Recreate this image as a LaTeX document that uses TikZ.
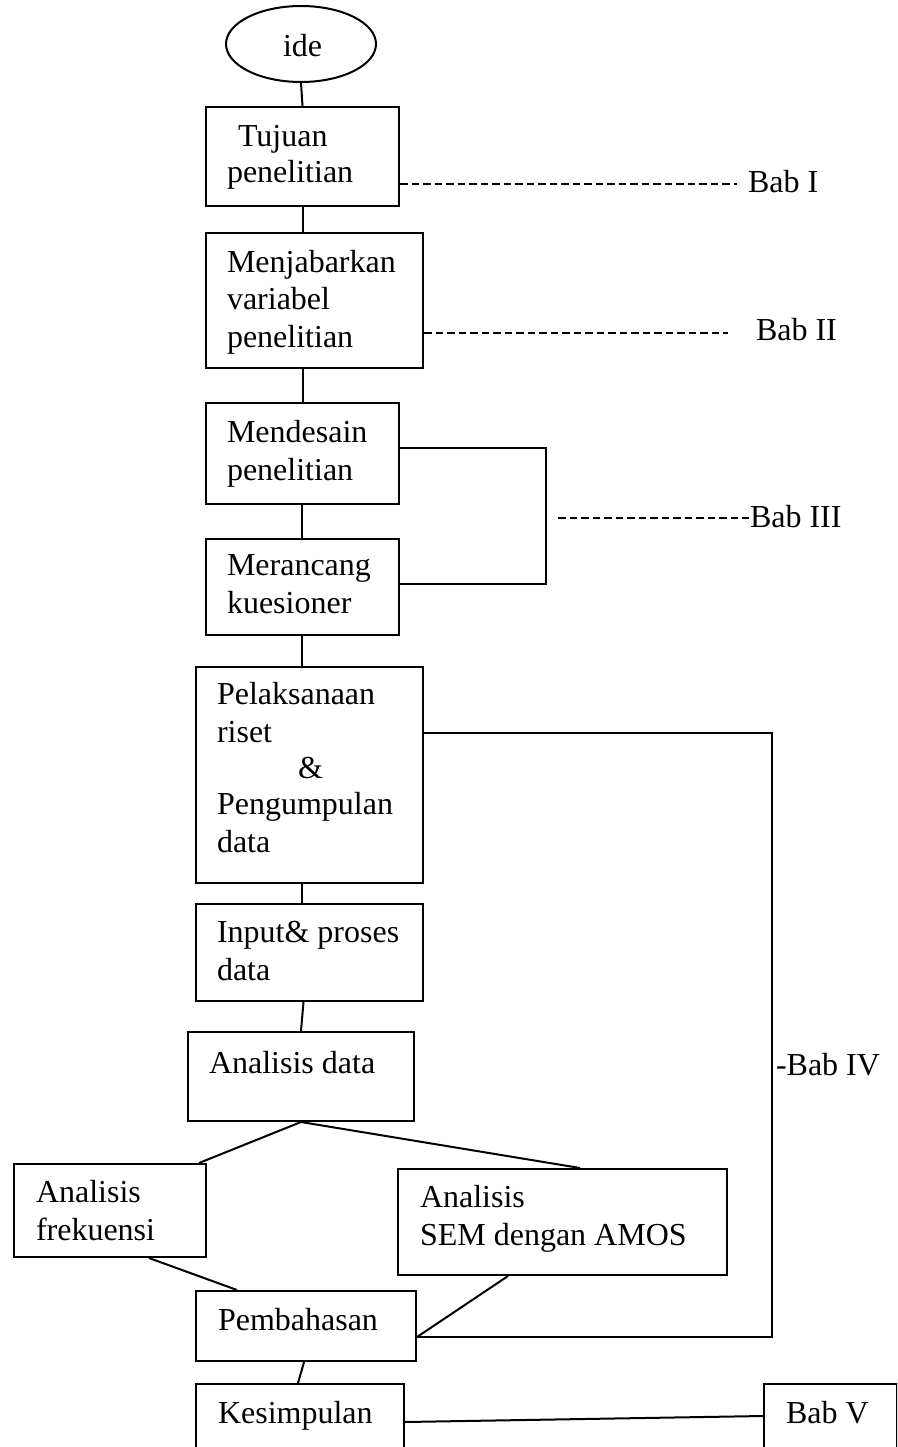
\documentclass[tikz,border=0pt]{standalone}
\usepackage{fontspec}
\setmainfont{Liberation Serif}
\usetikzlibrary{calc,shapes.geometric}
\begin{document}
\begin{tikzpicture}[x=1pt,y=-1pt,line width=2pt,
  box/.style={draw,rectangle,inner sep=0,anchor=north west},
  txt/.style={inner sep=0,anchor=base west,align=left,font=\fontsize{32}{37.5}\selectfont},
  link/.style={line width=2pt},
  dashlink/.style={line width=1.9pt,dash pattern=on 7.5pt off 4pt}]
\useasboundingbox (0,0) rectangle (897,1447);
\clip (0,0) rectangle (897,1447);

% start ellipse
\node[draw,ellipse,minimum width=150,minimum height=76,inner sep=0] (ide) at (301,44) {};
\node[txt] (tide) at (282,57) {ide};

% main column of boxes (multi-line labels are placed by their last baseline)
\node[box,minimum width=193,minimum height=99] (tuj) at (205,106) {};
\node[txt] (ttuj) at (237,147) {Tujuan};
\node[txt] (ttuj2) at (226,183) {penelitian};

\node[box,minimum width=217,minimum height=135] (menj) at (205,232) {};
\node[txt] (tmenj) at (226,347) {Menjabarkan\\variabel\\penelitian};

\node[box,minimum width=193,minimum height=101] (mend) at (205,402) {};
\node[txt] (tmend) at (226,480) {Mendesain\\penelitian};

\node[box,minimum width=193,minimum height=96] (mer) at (205,538) {};
\node[txt] (tmer) at (226,613) {Merancang\\kuesioner};

\node[box,minimum width=227,minimum height=216] (pel) at (195,666) {};
\node[txt] (tpel) at (216,742) {Pelaksanaan\\riset};
\node[txt] (tamp) at (297,778) {\&};
\node[txt] (tpel2) at (216,852) {Pengumpulan\\data};

\node[box,minimum width=227,minimum height=97] (inp) at (195,903) {};
\node[txt] (tinp) at (216,980) {Input\& proses\\data};

\node[box,minimum width=226,minimum height=89] (ana) at (187,1031) {};
\node[txt] (tana) at (208,1073) {Analisis data};

\node[box,minimum width=192,minimum height=93] (frek) at (13,1163) {};
\node[txt] (tfrek) at (35,1240) {Analisis\\frekuensi};

\node[box,minimum width=329,minimum height=106] (sem) at (397,1168) {};
\node[txt] (tsem) at (419,1245) {Analisis\\SEM dengan AMOS};

\node[box,minimum width=220,minimum height=70] (pemb) at (195,1290) {};
\node[txt] (tpemb) at (217,1330) {Pembahasan};

\node[box,minimum width=208,minimum height=100] (kes) at (195,1383) {};
\node[txt] (tkes) at (217,1423) {Kesimpulan};

\node[box,minimum width=133,minimum height=100] (bab5) at (763,1383) {};
\node[txt] (tbab5) at (785,1423) {Bab V};

% chapter labels
\node[txt] (bab1) at (747,193) {Bab I};
\node[txt] (bab2) at (755,340) {Bab II};
\node[txt] (bab3) at (749,527) {Bab III};
\node[txt] (bab4) at (775,1075) {-Bab IV};

% vertical flow
\draw[link] (ide.south) -- (tuj.north);
\draw[link] (tuj.south) -- (menj.north -| tuj.south);
\draw[link] ([xshift=-12pt]menj.south) -- (mend.north);
\draw[link] ([xshift=-1pt]mend.south) -- ([xshift=-1pt]mer.north);
\draw[link] ([xshift=-1pt]mer.south) -- ([xshift=-8pt]pel.north);
\draw[link] ([xshift=-8pt]pel.south) -- ([xshift=-8pt]inp.north);
\draw[link] ([xshift=-6pt]inp.south) -- (ana.north);
\draw[link] (ana.south) -- ([xshift=-8pt]frek.north east);
\draw[link] (ana.south) -- ([xshift=183pt]sem.north west);
\draw[link] ([xshift=-58pt]frek.south east) -- ([xshift=42pt]pemb.north west);
\draw[link] ([xshift=111pt]sem.south west) -- ([yshift=-11pt]pemb.east);
\draw[link] ([xshift=-2pt]pemb.south) -- ([xshift=-2pt]kes.north);

% chapter markers
\coordinate (e1) at ([yshift=-27.5pt]tuj.east);
\draw[dashlink] (e1) -- ([xshift=-10pt]bab1.west |- e1);
\coordinate (e2) at ([yshift=-32.5pt]menj.east);
\draw[dashlink] (e2) -- ([xshift=-27pt]bab2.west |- e2);

\coordinate (a3) at ([yshift=5.5pt]mend.east);
\coordinate (b3) at ([yshift=3pt]mer.east);
\coordinate (br3) at (546,0);
\draw[link] (a3) -| (br3 |- b3) -- (b3);
\coordinate (d3) at (558,518);
\draw[dashlink] (d3) -- (bab3.west |- d3);

\coordinate (a4) at ([yshift=42pt]pel.east);
\coordinate (b4) at ([yshift=-11pt]pemb.east);
\coordinate (br4) at (772,0);
\draw[link] (a4) -| (br4 |- b4) -- (b4);

\draw[link] ([yshift=-39pt]kes.north east) -- ([yshift=-33pt]bab5.north west);
\end{tikzpicture}
\end{document}
